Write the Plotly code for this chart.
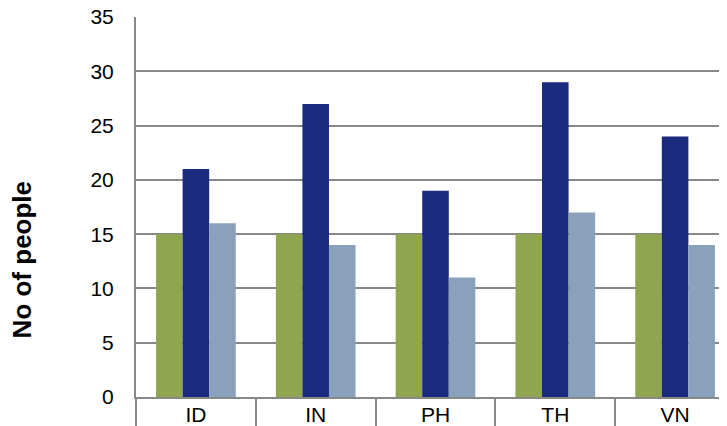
import plotly.graph_objects as go

countries = ["ID", "IN", "PH", "TH", "VN"]
series_a = [15, 15, 15, 15, 15]
series_b = [21, 27, 19, 29, 24]
series_c = [16, 14, 11, 17, 14]

GRID = "#888888"
FONT = "Liberation Sans, Arial, sans-serif"

fig = go.Figure()
for name, values, color in (
    ("Target", series_a, "#8FA64E"),
    ("Series 2", series_b, "#1A2A7F"),
    ("Series 3", series_c, "#8AA1BB"),
):
    fig.add_trace(go.Bar(x=countries, y=values, name=name, marker={"color": color, "line": {"width": 0}}))

# the page adds an 8px body margin, so the figure is shifted and its right edge is cut
fig.update_layout(
    width=727, height=426,
    margin={"l": 128, "r": 0, "t": 9, "b": 37, "autoexpand": False},
    paper_bgcolor="white", plot_bgcolor="white",
    barmode="group", bargap=0.335, bargroupgap=0,
    showlegend=False,
    font={"family": FONT, "color": "black", "size": 20},
)
fig.update_xaxes(
    type="category", range=[-0.5, 4.5], automargin=False,
    showline=True, linecolor=GRID, linewidth=2,
    showgrid=False,
    ticks="outside", tickson="boundaries", ticklen=30, tickwidth=1.5, tickcolor=GRID,
    ticklabelstandoff=-2,
    tickfont={"size": 21},
)
fig.update_yaxes(
    range=[0, 35.01], tickvals=[0, 5, 10, 15, 20, 25, 30, 35],
    ticklabeloverflow="allow", automargin=False,
    showline=True, linecolor=GRID, linewidth=2,
    showgrid=True, gridcolor=GRID, gridwidth=1.5,
    zeroline=False,
    ticks="", ticklabelstandoff=16,
    tickfont={"size": 21},
)
fig.add_annotation(
    text="<b>No of people</b>", textangle=-90, font={"size": 26},
    xref="paper", yref="paper", x=-0.19, y=0.36, xanchor="center", yanchor="middle",
    showarrow=False,
)
fig.write_html("out.html")
